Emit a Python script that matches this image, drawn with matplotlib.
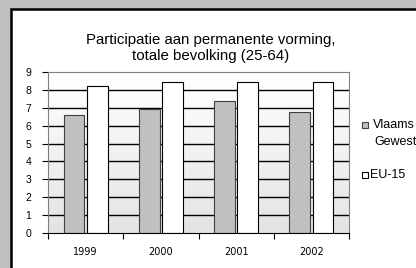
import numpy as np
import matplotlib.pyplot as plt
from matplotlib.patches import Rectangle

plt.rcParams['font.family'] = ['Liberation Sans', 'DejaVu Sans']

years = ['1999', '2000', '2001', '2002']
vlaams = [6.6, 6.95, 7.4, 6.75]
eu15 = [8.2, 8.45, 8.45, 8.45]
series_names = ['Vlaams\nGewest', 'EU-15']
title = 'Participatie aan permanente vorming,\ntotale bevolking (25-64)'

W, H = 416, 268
fig = plt.figure(figsize=(W / 100, H / 100), dpi=100, facecolor='#c0c0c0')

# white panel with black frame
fig.patches.append(Rectangle((11 / W, -0.05), 1.1, 1 - 9 / H + 0.05, transform=fig.transFigure,
                             facecolor='white', edgecolor='black', linewidth=1.8, zorder=-5))

ax = fig.add_axes([48 / W, 1 - 233 / H, 301 / W, 161 / H])
ax.set_zorder(1)
ax.set_xlim(0, 4)
ax.set_ylim(0, 9)

# gradient background
grad = np.linspace(0.89, 1.0, 256).reshape(-1, 1)
ax.imshow(grad, extent=[0, 4, 0, 9], origin='lower', aspect='auto', cmap='gray',
          vmin=0, vmax=1, zorder=0)

for y in range(1, 9):
    ax.axhline(y, color='black', linewidth=1, zorder=1)

x = np.arange(len(years)) + 0.5
w = 0.275
ax.bar(x - 0.155, vlaams, w, color='#c0c0c0', edgecolor='#404040', linewidth=0.8, zorder=2)
ax.bar(x + 0.155, eu15, w, color='white', edgecolor='black', linewidth=0.8, zorder=2)

for s in ax.spines.values():
    s.set_color('#808080')
    s.set_linewidth(0.8)
ax.spines['bottom'].set_color('black')

ax.set_yticks(range(10))
ax.set_xticks(range(5))
ax.set_xticklabels([])
ax.set_xticks(x, minor=True)
ax.set_xticklabels(years, minor=True, family='DejaVu Sans')
ax.tick_params(axis='x', which='minor', length=0, pad=10, labelsize=7)
ax.tick_params(axis='x', which='major', length=4, direction='out')
ax.tick_params(axis='y', length=4, direction='out', pad=8, labelsize=7.5)

fig.text(211 / W, 1 - 48 / H, title, ha='center', va='center', fontsize=10.8, linespacing=1.2)

# legend
fig.patches.append(Rectangle((362 / W, 1 - 128 / H), 6 / W, 6 / H, transform=fig.transFigure,
                             facecolor='#c0c0c0', edgecolor='#404040', linewidth=0.8, zorder=3))
fig.text(373 / W, 1 - 125 / H, series_names[0].split('\n')[0], va='center', fontsize=9)
fig.text(374 / W, 1 - 142 / H, series_names[0].split('\n')[1], va='center', fontsize=9)
fig.patches.append(Rectangle((362 / W, 1 - 178 / H), 6 / W, 6 / H, transform=fig.transFigure,
                             facecolor='white', edgecolor='black', linewidth=0.8, zorder=3))
fig.text(370 / W, 1 - 175 / H, series_names[1], va='center', fontsize=9)

fig.savefig('out.png', dpi=100, facecolor=fig.get_facecolor())
